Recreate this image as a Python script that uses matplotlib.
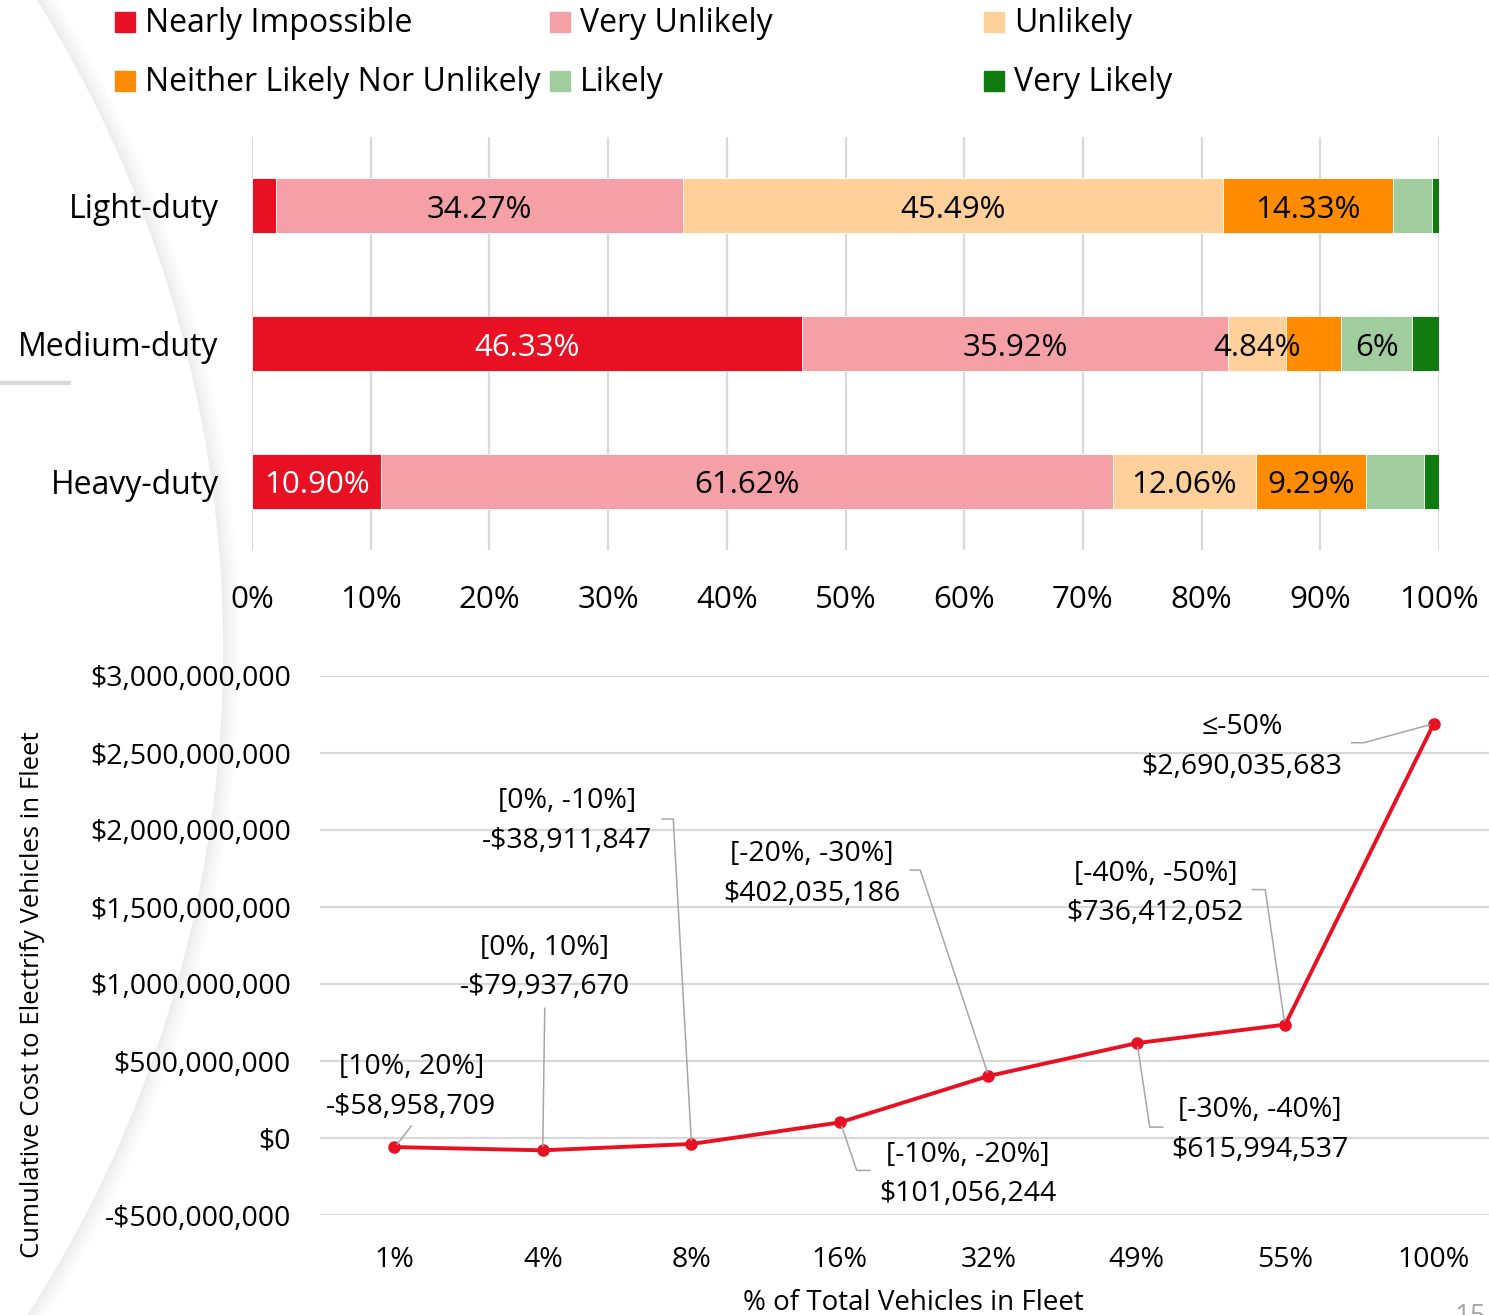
import matplotlib.pyplot as plt
import numpy as np
from matplotlib.lines import Line2D
from matplotlib.patches import Rectangle
from matplotlib.transforms import IdentityTransform

plt.rcParams['font.family'] = ['Open Sans', 'DejaVu Sans']

W, H = 1489, 1315

# survey responses (% of fleets), stacked bar
categories = ['Light-duty', 'Medium-duty', 'Heavy-duty']
series = ['Nearly Impossible', 'Very Unlikely', 'Unlikely',
          'Neither Likely Nor Unlikely', 'Likely', 'Very Likely']
colors = ['#E81123', '#F4A0A6', '#FFD09A', '#FF8C00', '#A0CC9E', '#107C10']
light = [2.02, 34.27, 45.49, 14.33, 3.30, 0.59]
medium = [46.33, 35.92, 4.84, 4.66, 6.00, 2.25]
heavy = [10.90, 61.62, 12.06, 9.29, 4.87, 1.26]
bar_labels = [
    [None, '34.27%', '45.49%', '14.33%', None, None],
    ['46.33%', '35.92%', '4.84%', None, '6%', None],
    ['10.90%', '61.62%', '12.06%', '9.29%', None, None],
]

# cumulative cost curve
fleet_share = ['1%', '4%', '8%', '16%', '32%', '49%', '55%', '100%']
cum_cost = [-58958709, -79937670, -38911847, 101056244,
            402035186, 615994537, 736412052, 2690035683]
cost_ranges = ['[10%, 20%]', '[0%, 10%]', '[0%, -10%]', '[-10%, -20%]',
               '[-20%, -30%]', '[-30%, -40%]', '[-40%, -50%]', '≤-50%']

fig = plt.figure(figsize=(W / 100, H / 100), dpi=100)

# background decoration (slide arc with soft shadow, small rule, page number)
bg = fig.add_axes([0, 0, 1, 1], zorder=-10)
bg.set_xlim(0, W)
bg.set_ylim(H, 0)
bg.axis('off')
t = np.linspace(-np.pi / 2, np.pi / 2, 600)
cx, cy, r = -1004, 650, 1228
for k in range(18):
    shade = 0.925 + 0.075 * (k / 17) ** 0.8
    bg.plot(cx + (r + k) * np.cos(t), cy + (r + k) * np.sin(t),
            color=(shade, shade, shade), lw=1.2, solid_capstyle='butt')
bg.plot([0, 69], [383, 383], color='#D9D9D9', lw=3)
bg.text(1470, 1303, '15', color='#A6A6A6', fontsize=20, ha='center', va='top')

# legend drawn as a 3-column grid
for i, (name, c) in enumerate(zip(series, colors)):
    row, col = i // 3, i % 3
    x0 = 115 + col * 434.5
    y0 = 22 + row * 59
    bg.add_patch(Rectangle((x0, y0 - 10), 20, 20, color=c))
    bg.text(x0 + 30, y0 + 1.5, name, fontsize=23, va='center', ha='left',
            color='#000000')

# top chart: stacked horizontal bars
ax1 = fig.add_axes([252 / W, 1 - 550 / H, (1439 - 252) / W, (550 - 137) / H])
data = np.array([light, medium, heavy])
y = np.arange(len(categories))
left = np.zeros(len(categories))
for j, (name, c) in enumerate(zip(series, colors)):
    ax1.barh(y, data[:, j], left=left, height=0.4, color=c, edgecolor='white',
             linewidth=0.6, zorder=3)
    for i in range(len(categories)):
        lab = bar_labels[i][j]
        if lab:
            ax1.annotate(lab, xy=(left[i] + data[i, j] / 2, y[i]), xytext=(0, -4),
                         textcoords='offset pixels', ha='center', va='center',
                         fontsize=22.5, color='white' if j == 0 else 'black',
                         zorder=4)
    left += data[:, j]
ax1.set_xlim(0, 100)
ax1.set_ylim(2.5, -0.5)
ax1.set_xticks(np.arange(0, 101, 10))
ax1.set_xticklabels([f'{v}%' for v in range(0, 101, 10)])
ax1.set_yticks(y)
ax1.set_yticklabels(categories)
ax1.tick_params(axis='x', length=0, pad=25, labelsize=22.5)
ax1.tick_params(axis='y', length=0, pad=24, labelsize=23)
ax1.grid(axis='x', color='#D9D9D9', lw=1.6, zorder=0)
for s in ax1.spines.values():
    s.set_visible(False)
ax1.set_facecolor('none')

# bottom chart: cumulative cost line
ax2 = fig.add_axes([320 / W, 1 - 1215 / H, 1188 / W, 539 / H])
x = np.arange(len(fleet_share))
ax2.plot(x, cum_cost, color='#E81123', lw=2.8, marker='o', ms=8, zorder=4)
ax2.set_xlim(-0.5, 7.5)
ax2.set_ylim(-5e8, 3e9)
yt = np.arange(-5e8, 3.01e9, 5e8)
ax2.set_yticks(yt)
ax2.set_yticklabels([('-$' if v < 0 else '$') + f'{abs(int(v)):,}' for v in yt])
ax2.set_xticks(x)
ax2.set_xticklabels(fleet_share)
ax2.tick_params(axis='x', length=0, pad=22, labelsize=20.5)
ax2.tick_params(axis='y', length=0, pad=21, labelsize=20.5)
ax2.grid(axis='y', color='#D9D9D9', lw=1.6, zorder=0)
for s in ax2.spines.values():
    s.set_visible(False)
ax2.set_facecolor('none')

fig.text(33 / W, 1 - 995 / H, 'Cumulative Cost to Electrify Vehicles in Fleet',
         rotation=90, ha='center', va='center', fontsize=18.5)
fig.text(913 / W, 1 - 1303 / H, '% of Total Vehicles in Fleet',
         ha='center', va='center', fontsize=20)

# data labels with leader lines (offsets in pixels, y down)
label_offsets = [(17, -62), (2, -185), (-124, -325), (128, 50),
                 (-176, -204), (123, 85), (-130, -133), (-192, 21)]
leaders = [
    [(17, -21), (3, -3)],
    [(2, -142), (0, -4)],
    [(-29, -325), (-18, -325), (0, -4)],
    [(30, 48), (17, 48), (2, 4)],
    [(-78, -206), (-68, -206), (-1, -4)],
    [(26, 84), (13, 84), (1, 4)],
    [(-33, -135), (-20, -135), (-1, -4)],
    [(-82, 19), (-70, 19), (-4, 1)],
]
for i, v in enumerate(cum_cost):
    val = ('-$' if v < 0 else '$') + f'{abs(v):,}'
    dx, dy = label_offsets[i]
    ax2.annotate(f'{cost_ranges[i]}\n{val}', xy=(i, v), xytext=(dx, -dy - 2),
                 textcoords='offset pixels', ha='center', va='center',
                 fontsize=20.5, linespacing=1.55, annotation_clip=False)
    px, py = ax2.transData.transform((i, v))
    xs = [px + p[0] for p in leaders[i]]
    ys = [py - p[1] for p in leaders[i]]
    fig.add_artist(Line2D(xs, ys, color='#A6A6A6', lw=1.1,
                          transform=IdentityTransform()))

fig.savefig('out.png', dpi=100)
